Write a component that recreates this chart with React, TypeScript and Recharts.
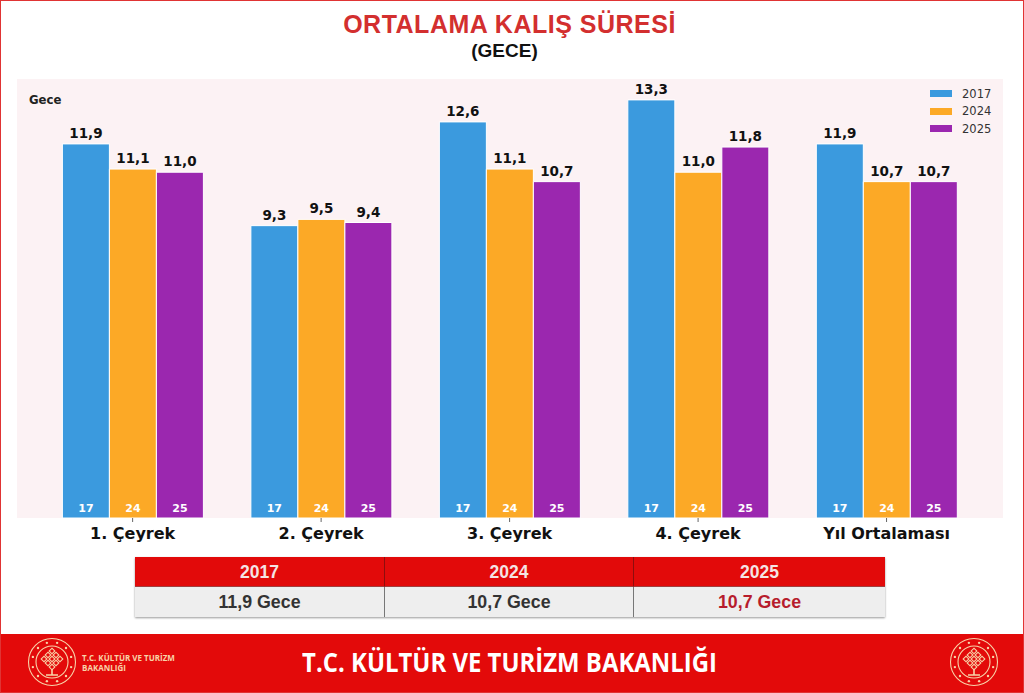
import { Bar, BarChart, CartesianGrid, LabelList, Legend, XAxis, YAxis } from 'recharts'

const categories = ['1. Çeyrek', '2. Çeyrek', '3. Çeyrek', '4. Çeyrek', 'Yıl Ortalaması']
const values2017 = [11.9, 9.3, 12.6, 13.3, 11.9]
const values2024 = [11.1, 9.5, 11.1, 11.0, 10.7]
const values2025 = [11.0, 9.4, 10.7, 11.8, 10.7]
const seriesNames = ['2017', '2024', '2025']
const seriesColors = ['#3b9ade', '#fca926', '#9b27af']
const shortYears = ['17', '24', '25']
const summaryYears = ['2017', '2024', '2025']
const summaryValues = ['11,9 Gece', '10,7 Gece', '10,7 Gece']
const summaryColors = ['#333333', '#333333', '#b71c2c']

const data = categories.map((name, i) => ({
  name,
  v2017: values2017[i],
  v2024: values2024[i],
  v2025: values2025[i],
}))
const seriesKeys = ['v2017', 'v2024', 'v2025']

const dejavu = '"DejaVu Sans", sans-serif'
const liberation = '"Liberation Sans", Arial, sans-serif'
const CREAM = '#f8d3a8'

const formatComma = (v: unknown) => Number(v).toFixed(1).replace('.', ',')

function LegendBox() {
  return (
    <div style={{ fontFamily: dejavu, fontSize: 11.5, color: '#333' }}>
      {seriesNames.map((name, i) => (
        <div key={name} style={{ display: 'flex', alignItems: 'center', height: 17.5 }}>
          <span style={{ width: 22, height: 7, background: seriesColors[i], marginRight: 10 }} />
          <span>{name}</span>
        </div>
      ))}
    </div>
  )
}

function Logo({ x }: { x: number }) {
  const angles = Array.from({ length: 12 }, (_, i) => (i * Math.PI) / 6 + Math.PI / 12)
  const knots = [
    [0, -11], [-4, -7], [4, -7], [-8, -3], [0, -3], [8, -3], [-4, 1], [4, 1], [0, 5],
  ]
  return (
    <svg width={50} height={50} viewBox="-25 -25 50 50" style={{ position: 'absolute', left: x - 25, top: 637 }}>
      <circle r={23.5} fill="none" stroke={CREAM} strokeWidth={1.1} />
      <circle r={16} fill="none" stroke={CREAM} strokeWidth={1.1} />
      {angles.map((a) => (
        <circle key={a} cx={19.8 * Math.cos(a)} cy={19.8 * Math.sin(a)} r={1.2} fill={CREAM} />
      ))}
      {knots.map(([kx, ky]) => (
        <rect
          key={`${kx}-${ky}`}
          x={kx - 2}
          y={ky - 2}
          width={4}
          height={4}
          fill="none"
          stroke={CREAM}
          strokeWidth={1.1}
          transform={`rotate(45 ${kx} ${ky})`}
        />
      ))}
      <path d="M0 7V13M-6 13H6" fill="none" stroke={CREAM} strokeWidth={1.6} />
    </svg>
  )
}

export default function App() {
  return (
    <div
      style={{
        position: 'absolute',
        left: 0,
        top: 0,
        width: 1024,
        height: 693,
        background: '#fff',
        overflow: 'hidden',
      }}
    >
      <div
        style={{
          position: 'absolute',
          left: 0,
          width: 1019,
          top: 8,
          textAlign: 'center',
          fontFamily: liberation,
          fontWeight: 700,
          fontSize: 25,
          lineHeight: '32px',
          letterSpacing: 0.5,
          color: '#d32f2f',
        }}
      >
        ORTALAMA KALIŞ SÜRESİ
      </div>
      <div
        style={{
          position: 'absolute',
          left: 0,
          width: 1009,
          top: 40,
          textAlign: 'center',
          fontFamily: liberation,
          fontWeight: 700,
          fontSize: 19,
          lineHeight: '22px',
          color: '#111',
        }}
      >
        (GECE)
      </div>

      <div style={{ position: 'absolute', left: 0, top: 0 }}>
        <BarChart
          width={1024}
          height={552}
          data={data}
          margin={{ top: 79, right: 21, bottom: 0, left: 17 }}
          barSize={47}
          barGap={0}
        >
          <CartesianGrid horizontal={false} vertical={false} fill="#fcf2f4" fillOpacity={1} />
          <XAxis
            dataKey="name"
            height={34}
            padding={{ left: 21.4, right: 22.2 }}
            axisLine={false}
            tickSize={4}
            tickLine={{ stroke: '#666' }}
            tick={{ fontFamily: dejavu, fontWeight: 700, fontSize: 16, fill: '#111' }}
            tickMargin={6}
          />
          <YAxis hide domain={[0, 13.965]} />
          <Legend
            layout="vertical"
            verticalAlign="middle"
            align="center"
            content={() => <LegendBox />}
            wrapperStyle={{ top: 85, right: 32, width: 62, left: 'auto' }}
          />
          {seriesKeys.map((key, s) => (
            <Bar
              key={key}
              dataKey={key}
              name={seriesNames[s]}
              fill={seriesColors[s]}
              stroke="#ffffff"
              strokeWidth={1}
              isAnimationActive={false}
            >
              <LabelList
                dataKey={key}
                position="top"
                offset={6}
                formatter={formatComma}
                style={{ fontFamily: dejavu, fontWeight: 700, fontSize: 13.5, fill: '#111' }}
              />
              <LabelList
                valueAccessor={() => shortYears[s]}
                position="insideBottom"
                offset={6}
                style={{ fontFamily: dejavu, fontWeight: 700, fontSize: 11, fill: '#fff' }}
              />
            </Bar>
          ))}
        </BarChart>
      </div>

      <div
        style={{
          position: 'absolute',
          left: 29,
          top: 92,
          fontFamily: dejavu,
          fontWeight: 700,
          fontSize: 11.7,
          lineHeight: '16px',
          color: '#222',
        }}
      >
        Gece
      </div>

      <div
        style={{
          position: 'absolute',
          left: 135,
          top: 557,
          width: 750,
          display: 'grid',
          gridTemplateColumns: '249px 249px 252px',
          gridTemplateRows: '30px 30px',
          fontFamily: liberation,
          fontWeight: 700,
          fontSize: 17.5,
          textAlign: 'center',
          lineHeight: '30px',
          boxShadow: '0 1px 2px #999',
        }}
      >
        {summaryYears.map((y, i) => (
          <div
            key={y}
            style={{
              background: '#e20a0a',
              color: '#f4e4e4',
              borderLeft: i > 0 ? '1px solid #8e0d0d' : 'none',
              borderBottom: '1px solid #a04040',
              boxSizing: 'border-box',
            }}
          >
            {y}
          </div>
        ))}
        {summaryValues.map((v, i) => (
          <div
            key={v + i}
            style={{
              background: '#eeeeee',
              color: summaryColors[i],
              borderLeft: i > 0 ? '1px solid #777' : 'none',
              boxSizing: 'border-box',
              fontSize: 17.8,
            }}
          >
            {v}
          </div>
        ))}
      </div>

      <div style={{ position: 'absolute', left: 0, top: 634, width: 1024, height: 59, background: '#e30a0a' }} />
      <Logo x={52} />
      <Logo x={974} />
      <div
        style={{
          position: 'absolute',
          left: 82,
          top: 653,
          fontFamily: '"Open Sans", sans-serif',
          fontWeight: 700,
          fontSize: 8,
          lineHeight: '9.5px',
          color: CREAM,
        }}
      >
        T.C. KÜLTÜR VE TURİZM
        <br />
        BAKANLIĞI
      </div>
      <div
        style={{
          position: 'absolute',
          left: 0,
          width: 1019,
          top: 645,
          textAlign: 'center',
          fontFamily: '"Open Sans", sans-serif',
          fontWeight: 700,
          fontSize: 26,
          lineHeight: '34px',
          color: '#fff',
          transform: 'scaleX(0.92)',
        }}
      >
        T.C. KÜLTÜR VE TURİZM BAKANLIĞI
      </div>
      <div
        style={{
          position: 'absolute',
          left: 0,
          top: 0,
          width: 1024,
          height: 693,
          boxSizing: 'border-box',
          border: '1.5px solid #e03434',
          pointerEvents: 'none',
        }}
      />
    </div>
  )
}
